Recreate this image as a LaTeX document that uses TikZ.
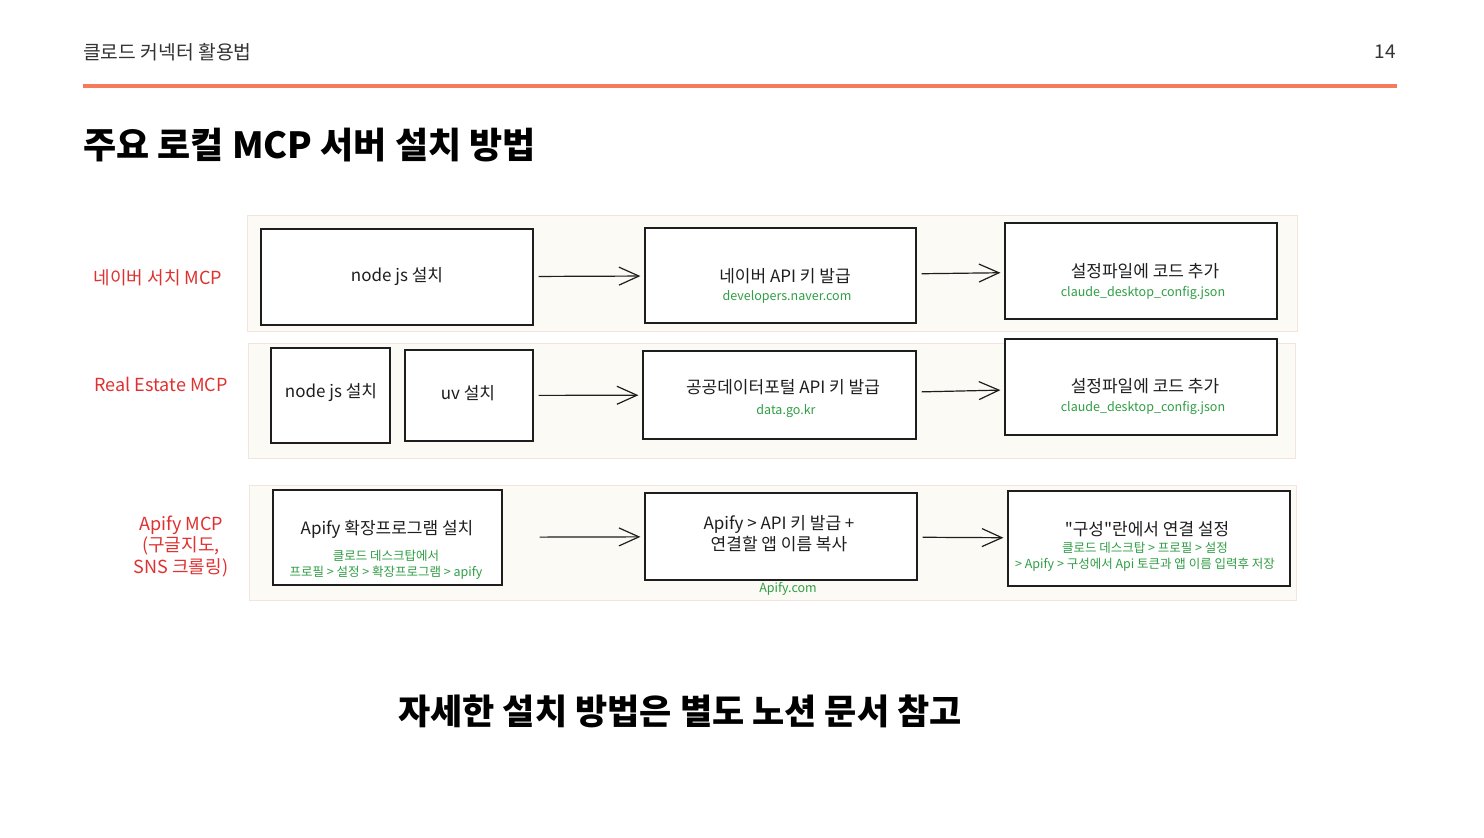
\documentclass[tikz,border=0pt]{standalone}
\usepackage{fontspec}
\setmainfont{Noto Sans CJK KR}
\newfontfamily\krplain{Noto Sans CJK KR}
\usepackage{tikz}
\usetikzlibrary{arrows.meta,positioning,fit}
\definecolor{hdGray}{HTML}{333333}
\definecolor{hdOrange}{HTML}{F47B5C}
\definecolor{exRed}{HTML}{E03131}
\definecolor{exGreen}{HTML}{2F9E44}
\definecolor{exInk}{HTML}{1E1E1E}
\definecolor{laneFill}{HTML}{FCFAF4}
\definecolor{laneLine}{HTML}{F3E4DE}
\newcommand{\fsz}[2]{\fontsize{#1}{#2}\selectfont}

\begin{document}
\begin{tikzpicture}[x=1pt,y=-1pt,
  lane/.style={draw=laneLine, fill=laneFill, line width=0.8pt, inner sep=0pt},
  stepbox/.style={draw=exInk, fill=white, line width=1.2pt, inner sep=0pt},
  mainlbl/.style={font=\fsz{17}{21}, text=exInk, align=center, inner sep=0pt},
  sublbl/.style={font=\fsz{12.5}{16.5}, text=exGreen, align=center, inner sep=0pt},
  rowlbl/.style={font=\fsz{18}{21.5}, text=exRed, align=center, inner sep=0pt},
  flow/.style={-{Straight Barb[length=20pt,width=18pt]}, draw=exInk, line width=1.2pt,
    shorten <=5pt, shorten >=4pt}]
  \useasboundingbox (0,0) rectangle (1484,838);
  \fill[white] (0,0) rectangle (1484,838);

  % header
  \node[anchor=west, font=\fsz{19.3}{23}, text=hdGray, inner sep=0pt] (hdr) at (83,52) {클로드 커넥터 활용법};
  \node[anchor=east, font=\fsz{19}{23}, text=hdGray, inner sep=0pt] (pgno) at (1396,52) {14};
  \draw[hdOrange, line width=3.5pt] (83,86) -- (1397,86);
  \node[anchor=west, font=\bfseries\fsz{36}{42}, inner sep=0pt] (ttl) at (83,145) {주요 로컬 MCP 서버 설치 방법};

  % lanes
  \node[lane, fit={(247,215) (1297,331)}] (laneA) {};
  \node[lane, fit={(248,343) (1295,458)}] (laneB) {};
  \node[lane, fit={(249,485) (1296,600)}] (laneC) {};

  % row 1: naver
  \node[rowlbl] (lblA) at (158,278) {네이버 서치 MCP};
  \node[stepbox, fit={(261,229) (533,325)}] (a1) {};
  \node[stepbox, fit={(645,228) (916,323)}] (a2) {};
  \node[stepbox, fit={(1005,223) (1277,319)}] (a3) {};
  \node[mainlbl] (a1t) at (397,277) {node js 설치};
  \node[mainlbl] (a2t) at (785,276) {네이버 API 키 발급};
  \node[sublbl] (a2s) at (787,297) {developers.naver.com};
  \node[mainlbl] (a3t) at (1145,271) {설정파일에 코드 추가};
  \node[sublbl] (a3s) at (1143,293) {claude\_desktop\_config.json};
  \draw[flow] (a1) -- (a2);
  \draw[flow] (a2) -- (a3);

  % row 2: real estate
  \node[rowlbl] (lblB) at (161,384) {Real Estate MCP};
  \node[stepbox, fit={(271,348) (390,443)}] (b1) {};
  \node[stepbox, fit={(405,350) (533,441)}] (b2) {};
  \node[stepbox, fit={(643,351) (916,439)}] (b3) {};
  \node[stepbox, fit={(1005,339) (1277,435)}] (b4) {};
  \node[mainlbl] (b1t) at (331,393) {node js 설치};
  \node[mainlbl] (b2t) at (468,393) {uv 설치};
  \node[mainlbl] (b3t) at (783,387) {공공데이터포털 API 키 발급};
  \node[sublbl] (b3s) at (786,411) {data.go.kr};
  \node[mainlbl] (b4t) at (1145,386) {설정파일에 코드 추가};
  \node[sublbl] (b4s) at (1143,408) {claude\_desktop\_config.json};
  \draw[flow] (b2) -- (b3);
  \draw[flow] (b3) -- (b4);

  % row 3: apify
  \node[rowlbl] (lblC) at (181,546) {Apify MCP\\(구글지도,\\SNS 크롤링)};
  \node[stepbox, fit={(273,490) (502,585)}] (c1) {};
  \node[stepbox, fit={(645,493) (917,580)}] (c2) {};
  \node[stepbox, fit={(1008,491) (1290,586)}] (c3) {};
  \node[mainlbl] (c1t) at (387,529) {Apify 확장프로그램 설치};
  \node[sublbl] (c1s) at (386,565) {클로드 데스크탑에서\\프로필 > 설정 > 확장프로그램 > apify};
  \node[mainlbl] (c2t) at (779,534) {Apify > API 키 발급 +\\연결할 앱 이름 복사};
  \node[sublbl] (c2s) at (788,589) {Apify.com};
  \node[mainlbl] (c3t) at (1147,529) {{\krplain "구성"}란에서 연결 설정};
  \node[sublbl] (c3s) at (1145,557) {클로드 데스크탑 > 프로필 > 설정\\> Apify > 구성에서 Api 토큰과 앱 이름 입력후 저장};
  \draw[flow, shorten <=37pt] (c1) -- (c2);
  \draw[flow] (c2) -- (c3);

  % footer note
  \node[font=\bfseries\fsz{35}{40}, inner sep=0pt] (note) at (680,711) {자세한 설치 방법은 별도 노션 문서 참고};
\end{tikzpicture}
\end{document}
